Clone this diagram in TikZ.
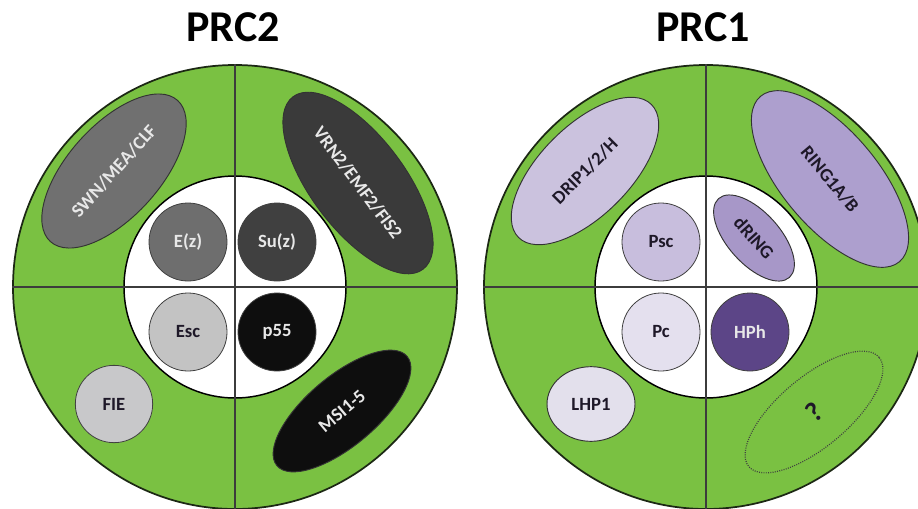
\documentclass[tikz,border=0pt]{standalone}
\usepackage{fontspec}
\setmainfont{Carlito}
\usetikzlibrary{shapes.geometric}

\definecolor{leaf}{RGB}{122,193,66}
\definecolor{rim}{RGB}{28,40,20}
\definecolor{cross}{RGB}{60,60,60}
\definecolor{lighttxt}{RGB}{232,232,232}
\definecolor{darktxt}{RGB}{30,24,40}
% PRC2 greys
\definecolor{gSWN}{RGB}{112,112,112}
\definecolor{gEz}{RGB}{110,110,110}
\definecolor{gSuz}{RGB}{64,64,64}
\definecolor{gVRN}{RGB}{58,58,58}
\definecolor{gEsc}{RGB}{195,195,195}
\definecolor{gFIE}{RGB}{200,200,202}
\definecolor{gBlack}{RGB}{14,14,14}
% PRC1 purples
\definecolor{pDRIP}{RGB}{203,194,222}
\definecolor{pPsc}{RGB}{200,190,221}
\definecolor{pRING}{RGB}{173,159,206}
\definecolor{pdRING}{RGB}{167,151,200}
\definecolor{pPc}{RGB}{228,224,238}
\definecolor{pLHP}{RGB}{227,224,236}
\definecolor{pHPh}{RGB}{92,69,135}

\tikzset{
  big/.style={circle, draw=rim, line width=1.3pt, fill=leaf, minimum size=333pt, inner sep=0pt},
  core/.style={circle, draw=black, line width=1.1pt, fill=white, minimum size=166.5pt, inner sep=0pt},
  divider/.style={draw=cross, line width=0.8pt},
  lbl/.style={font=\fontsize{14}{14}\selectfont\bfseries},
  dot/.style={circle, draw=black!75, line width=0.6pt, minimum size=58.5pt, inner sep=0pt, lbl},
  oval/.style={ellipse, draw=black!80, line width=0.7pt, inner sep=0pt, lbl},
  title/.style={font=\fontsize{33}{33}\selectfont\bfseries, anchor=base}
}

\begin{document}
\begin{tikzpicture}[x=0.75pt, y=-0.75pt]
\useasboundingbox (0,0) rectangle (918,508);
\fill[white] (0,0) rectangle (918,508);

% ---------- PRC2 ----------
\node[title] (t2) at (233,41) {PRC2};
\node[big] (prc2) at (235,287) {};
\node[core] (core2) at (235,287) {};
\draw[divider] (prc2.north) -- (prc2.south);
\draw[divider] (prc2.west) -- (prc2.east);

\node[oval, fill=gSWN, text=lighttxt, minimum width=142.5pt, minimum height=69pt, rotate=48] (swn) at (114,171) {SWN/MEA/CLF};
\node[oval, fill=gVRN, text=lighttxt, minimum width=162pt, minimum height=70.5pt, rotate=-53] (vrn) at (358,183) {VRN2/EMF2/FIS2};
\node[oval, fill=gBlack, text=lighttxt, minimum width=127.5pt, minimum height=52.5pt, rotate=40] (msi) at (342,411) {MSI1-5};
\node[dot, fill=gFIE, text=darktxt, minimum size=58pt] (fie) at (114,404) {FIE};

\node[dot, fill=gEz, text=lighttxt] (ez) at (188,242) {E(z)};
\node[dot, fill=gSuz, text=lighttxt] (suz) at (277,242) {Su(z)};
\node[dot, fill=gEsc, text=darktxt] (esc) at (188,332) {Esc};
\node[dot, fill=gBlack, text=lighttxt] (p55) at (277,332) {p55};

% ---------- PRC1 ----------
\node[title] (t1) at (703,41) {PRC1};
\node[big] (prc1) at (706,287) {};
\node[core] (core1) at (706,287) {};
\draw[divider] (prc1.north) -- (prc1.south);
\draw[divider] (prc1.west) -- (prc1.east);

\node[oval, fill=pDRIP, text=darktxt, minimum width=141pt, minimum height=67.5pt, rotate=45] (drip) at (585,171) {DRIP1/2/H};
\node[oval, fill=pRING, text=darktxt, minimum width=162pt, minimum height=72pt, rotate=-50] (ring) at (830,179) {RING1A/B};
\node[oval, fill=pLHP, text=darktxt, minimum width=66pt, minimum height=56pt] (lhp) at (591,404) {LHP1};
\node[oval, fill=leaf, draw=black!75, densely dotted, line width=0.9pt, text=darktxt, minimum width=127.5pt, minimum height=52.5pt, rotate=40] (unk) at (814,412) {\fontsize{21}{21}\selectfont ?};

\node[dot, fill=pPsc, text=darktxt] (psc) at (661,242) {Psc};
\node[oval, fill=pdRING, text=darktxt, minimum width=79.5pt, minimum height=39pt, rotate=-48] (dring) at (754,238) {dRING};
\node[dot, fill=pPc, text=darktxt] (pc) at (661,332) {Pc};
\node[dot, fill=pHPh, text=lighttxt] (hph) at (750,332) {HPh};
\end{tikzpicture}
\end{document}
